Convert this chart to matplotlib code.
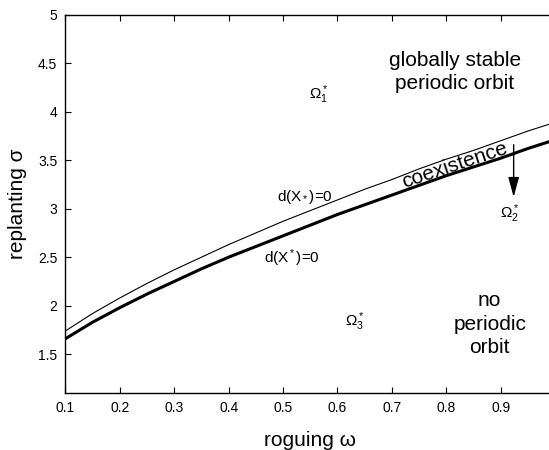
import matplotlib
matplotlib.use("Agg")
import matplotlib.pyplot as plt
from matplotlib.patches import FancyArrowPatch

plt.rcParams['font.family'] = ['Liberation Sans', 'DejaVu Sans']
plt.rcParams['mathtext.fontset'] = 'custom'
plt.rcParams['mathtext.rm'] = 'Liberation Sans'
plt.rcParams['mathtext.it'] = 'Liberation Sans'
plt.rcParams['mathtext.bf'] = 'Liberation Sans:bold'

# data
omega = [0.1, 0.15, 0.2, 0.25, 0.3, 0.35, 0.4, 0.45, 0.5, 0.55,
         0.6, 0.65, 0.7, 0.75, 0.8, 0.85, 0.9, 0.95, 1.0]
sigma_lower_star = [1.74, 1.92, 2.08, 2.23, 2.37, 2.50, 2.63, 2.75, 2.87, 2.98,
                    3.09, 3.20, 3.30, 3.41, 3.51, 3.60, 3.70, 3.80, 3.89]   # d(X_*)=0 (thin)
sigma_upper_star = [1.66, 1.83, 1.98, 2.12, 2.25, 2.38, 2.50, 2.61, 2.72, 2.83,
                    2.94, 3.04, 3.14, 3.24, 3.34, 3.43, 3.52, 3.62, 3.71]   # d(X^*)=0 (thick)
xticks = [0.1, 0.2, 0.3, 0.4, 0.5, 0.6, 0.7, 0.8, 0.9]
yticks = [1.5, 2, 2.5, 3, 3.5, 4, 4.5, 5]
xtick_labels = ['0.1', '0.2', '0.3', '0.4', '0.5', '0.6', '0.7', '0.8', '0.9']
ytick_labels = ['1.5', '2', '2.5', '3', '3.5', '4', '4.5', '5']

fig = plt.figure(figsize=(5.49, 4.5), dpi=100)
ax = fig.add_axes([0.1193, 0.1267, 0.8916, 0.8407])

ax.plot(omega, sigma_lower_star, color='black', lw=0.8)
ax.plot(omega, sigma_upper_star, color='black', lw=2.2)

ax.set_xlim(0.1, 1.0)
ax.set_ylim(1.1, 5)
ax.set_xticks(xticks)
ax.set_xticklabels(xtick_labels)
ax.set_yticks(yticks)
ax.set_yticklabels(ytick_labels)
ax.tick_params(direction='in', length=4, width=0.8, labelsize=10, top=True, right=True, pad=6)
for s in ax.spines.values():
    s.set_linewidth(1.0)

ax.set_xlabel('roguing ω', fontsize=15, labelpad=11)
ax.set_ylabel('replanting σ', fontsize=15, labelpad=8)

ax.text(0.816, 4.41, 'globally stable\nperiodic orbit', fontsize=15, ha='center', va='center', linespacing=1.3)
ax.text(0.88, 1.81, 'no\nperiodic\norbit', fontsize=15, ha='center', va='center', linespacing=1.3)
ax.text(0.816, 3.45, 'coexistence', fontsize=15, ha='center', va='center', rotation=18.5)
ax.text(0.566, 4.17, r'$\Omega_1^*$', fontsize=11, ha='center', va='center')
ax.text(0.917, 2.95, r'$\Omega_2^*$', fontsize=11, ha='center', va='center')
ax.text(0.632, 1.83, r'$\Omega_3^*$', fontsize=11, ha='center', va='center')
ax.text(0.54, 3.12, r'd(X$_*$)=0', fontsize=11, ha='center', va='center')
ax.text(0.517, 2.49, r'd(X$^*$)=0', fontsize=11, ha='center', va='center')

arr = FancyArrowPatch((0.924, 3.66), (0.924, 3.12), arrowstyle='-|>,head_length=1.1,head_width=0.3',
                      color='black', lw=1.0, mutation_scale=11, shrinkA=0, shrinkB=0)
ax.add_patch(arr)

fig.savefig('out.png', dpi=100)
